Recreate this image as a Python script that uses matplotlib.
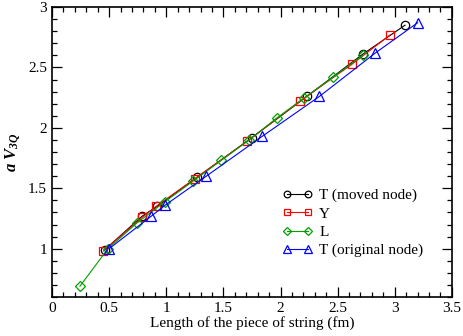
import matplotlib.pyplot as plt
from matplotlib.ticker import MultipleLocator

# T (moved node)
t_moved_x = [0.46, 0.79, 0.92, 1.27, 1.75, 2.23, 2.72, 3.09]
t_moved_y = [0.99, 1.27, 1.35, 1.59, 1.92, 2.26, 2.61, 2.85]
# Y
y_x = [0.45, 0.79, 0.91, 1.25, 1.71, 2.17, 2.63, 2.96]
y_y = [0.98, 1.26, 1.35, 1.58, 1.89, 2.22, 2.53, 2.77]
# L
l_x = [0.245, 0.49, 0.74, 0.99, 1.235, 1.48, 1.725, 1.965, 2.21, 2.46, 2.72]
l_y = [0.69, 1.00, 1.21, 1.39, 1.56, 1.73, 1.90, 2.08, 2.25, 2.42, 2.60]
# T (original node)
t_orig_x = [0.50, 0.87, 0.99, 1.35, 1.84, 2.34, 2.83, 3.20]
t_orig_y = [1.00, 1.27, 1.36, 1.60, 1.93, 2.26, 2.62, 2.87]

plt.rcParams["font.family"] = "Liberation Serif"
plt.rcParams["mathtext.fontset"] = "custom"
plt.rcParams["mathtext.rm"] = "Liberation Serif"
plt.rcParams["mathtext.it"] = "Liberation Serif:italic"
plt.rcParams["mathtext.bf"] = "Liberation Serif:bold"
plt.rcParams["mathtext.bfit"] = "Liberation Serif:bold:italic"

fig = plt.figure(figsize=(4.63, 3.36), dpi=100)
ax = fig.add_axes([0.1123, 0.116, 0.8637, 0.863])

ms = 6
ax.plot(t_moved_x, t_moved_y, color="black", lw=0.8, marker="o", ms=ms,
        mfc="none", mew=0.9, label="T (moved node)")
ax.plot(y_x, y_y, color="red", lw=0.8, marker="s", ms=ms,
        mfc="none", mew=0.9, label="Y")
ax.plot(l_x, l_y, color="#00a000", lw=0.8, marker="D", ms=5,
        mfc="none", mew=0.9, label="L")
ax.plot(t_orig_x, t_orig_y, color="blue", lw=0.8, marker="^", ms=ms + 0.5,
        mfc="none", mew=0.9, label="T (original node)")

ax.set_xlim(0, 3.5)
ax.set_ylim(0.6, 3)
ax.xaxis.set_minor_locator(MultipleLocator(0.1))
ax.yaxis.set_minor_locator(MultipleLocator(0.1))
ax.set_xticks([0, 0.5, 1, 1.5, 2, 2.5, 3, 3.5])
ax.set_xticklabels(["0", "0.5", "1", "1.5", "2", "2.5", "3", "3.5"])
ax.set_yticks([1, 1.5, 2, 2.5, 3])
ax.set_yticklabels(["1", "1.5", "2", "2.5", "3"])
ax.tick_params(which="both", direction="in", top=True, right=True,
               labelsize=11, width=0.9)
ax.tick_params(which="major", length=7)
ax.tick_params(which="minor", length=3.5)
for s in ax.spines.values():
    s.set_linewidth(1.2)

ax.set_xlabel("Length of the piece of string (fm)", fontsize=11, labelpad=1)
ax.set_ylabel(r"$\mathbfit{a}\ \mathbfit{V}_{\mathbfit{3Q}}$", fontsize=12,
              labelpad=4)

ax.legend(loc="lower right", bbox_to_anchor=(0.955, 0.1), frameon=False,
          fontsize=11, numpoints=2, handlelength=2.0, handletextpad=0.4,
          labelspacing=0.3, borderpad=0.2, markerscale=0.8)

fig.savefig("out.png", dpi=100)
